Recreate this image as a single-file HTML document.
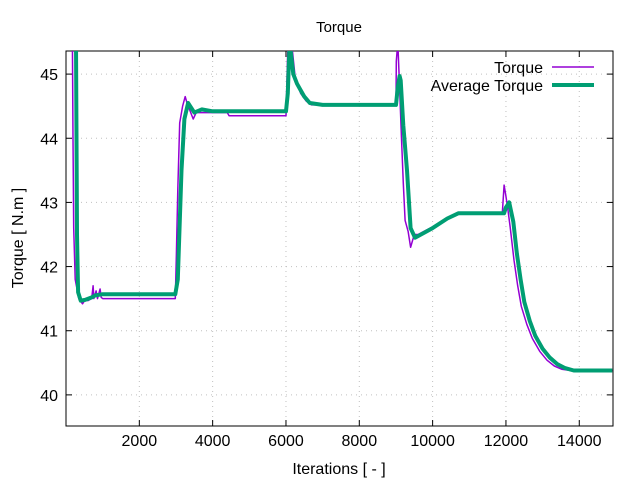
<!DOCTYPE html>
<html><head><meta charset="utf-8"><style>
body{margin:0;background:#fff}
svg{display:block;font-family:"Liberation Sans",sans-serif}
</style></head><body>
<svg id="chart" width="640" height="480" viewBox="0 0 640 480">
<defs><clipPath id="clip"><rect x="66" y="51" width="547" height="375"/></clipPath></defs>
<rect width="640" height="480" fill="#fff"/>
<text x="339" y="32" text-anchor="middle" font-size="15">Torque</text>
<g id="grid"></g>
<g id="axes"></g>
<g id="series" clip-path="url(#clip)"></g>
<text x="339" y="474" text-anchor="middle" font-size="16">Iterations [ - ]</text>
<text transform="translate(23,238) rotate(-90)" text-anchor="middle" font-size="16">Torque [ N.m ]</text>
<g>
<text x="543" y="73" text-anchor="end" font-size="16">Torque</text>
<line x1="552" y1="67" x2="594" y2="67" stroke="#9400d3" stroke-width="1.5"/>
<text x="543" y="91" text-anchor="end" font-size="16">Average Torque</text>
<line x1="552" y1="85" x2="594" y2="85" stroke="#009e73" stroke-width="4"/>
</g>
</svg>
<script>
const xTicks=[2000,4000,6000,8000,10000,12000,14000];
const yTicks=[40,41,42,43,44,45];
const torqueX=[150,170,190,210,250,350,450,520,600,700,740,760,820,860,930,960,1000,2980,3010,3050,3100,3180,3250,3300,3470,3550,4400,4450,6000,6030,6070,6150,6250,6400,6550,6700,7000,9000,9010,9050,9090,9150,9200,9250,9330,9400,9500,9600,10000,10400,10700,11900,11950,12000,12050,12120,12220,12320,12420,12570,12720,12920,13120,13320,13520,13770,14900];
const torqueY=[46.5,46,44,42.6,41.8,41.5,41.42,41.48,41.47,41.5,41.7,41.5,41.62,41.5,41.65,41.52,41.5,41.5,42.2,43.2,44.24,44.5,44.65,44.55,44.3,44.4,44.4,44.35,44.35,45.0,45.8,45.5,44.96,44.7,44.58,44.52,44.52,44.52,45.2,45.5,44.9,44.0,43.3,42.72,42.55,42.3,42.5,42.5,42.62,42.75,42.83,42.83,43.27,43.1,42.9,42.6,42.1,41.7,41.38,41.1,40.88,40.68,40.54,40.45,40.4,40.38,40.38];
const avgX=[200,270,300,330,400,520,700,800,900,1000,2980,3050,3150,3230,3330,3500,3700,4000,6000,6050,6100,6200,6300,6400,6500,6650,7000,9000,9050,9100,9130,9200,9300,9400,9520,10000,10400,10700,11950,12000,12090,12200,12300,12400,12500,12650,12800,13000,13200,13400,13600,13850,14900];
const avgY=[46.5,45.8,42.5,41.6,41.47,41.48,41.52,41.55,41.56,41.57,41.57,41.8,43.5,44.3,44.55,44.4,44.45,44.42,44.42,44.7,45.5,45.0,44.85,44.75,44.65,44.55,44.52,44.52,44.8,44.97,44.9,44.2,43.5,42.6,42.45,42.6,42.75,42.83,42.83,42.92,43.0,42.7,42.2,41.8,41.45,41.15,40.92,40.72,40.58,40.48,40.42,40.38,40.38];
const L=66,R=613,T=51,B=426,X0=0,X1=14920,Y0=39.515,Y1=45.36;
const sx=v=>L+(v-X0)/(X1-X0)*(R-L);
const sy=v=>B-(v-Y0)/(Y1-Y0)*(B-T);
const NS='http://www.w3.org/2000/svg';
function mk(tag,attrs,parent){const e=document.createElementNS(NS,tag);for(const k in attrs)e.setAttribute(k,attrs[k]);parent.appendChild(e);return e;}
const grid=document.getElementById('grid'),axes=document.getElementById('axes'),series=document.getElementById('series');
xTicks.forEach(t=>{const x=sx(t);
 const g=mk('line',{x1:x,y1:T,x2:x,y2:B,stroke:'#c0c0c0','stroke-width':1,'stroke-dasharray':'1,4'},grid);
 
 
 const a=mk('line',{x1:x,y1:B,x2:x,y2:B-6,stroke:'#000'},axes);
 const b=mk('line',{x1:x,y1:T,x2:x,y2:T+6,stroke:'#000'},axes);
 const tx=mk('text',{x:x,y:B+20,'text-anchor':'middle','font-size':16},axes);tx.textContent=t;
 
 
});
yTicks.forEach(t=>{const y=sy(t);
 const g=mk('line',{x1:L,y1:y,x2:R,y2:y,stroke:'#c0c0c0','stroke-width':1,'stroke-dasharray':'1,4'},grid);
 
 
 const a=mk('line',{x1:L,y1:y,x2:L+6,y2:y,stroke:'#000'},axes);
 const b=mk('line',{x1:R,y1:y,x2:R-6,y2:y,stroke:'#000'},axes);
 const tx=mk('text',{x:L-8,y:y+6,'text-anchor':'end','font-size':16},axes);tx.textContent=t;
 
 
});
const fr=mk('rect',{x:L,y:T,width:R-L,height:B-T,fill:'none',stroke:'#000','stroke-width':1},axes);


function pts(xs,ys){return xs.map((v,i)=>sx(v).toFixed(1)+','+sy(ys[i]).toFixed(1)).join(' ');}
const p1=mk('polyline',{points:pts(torqueX,torqueY),fill:'none',stroke:'#9400d3','stroke-width':1.5,'stroke-linejoin':'round'},series);


const p2=mk('polyline',{points:pts(avgX,avgY),fill:'none',stroke:'#009e73','stroke-width':4,'stroke-linejoin':'round'},series);


</script>
</body></html>
